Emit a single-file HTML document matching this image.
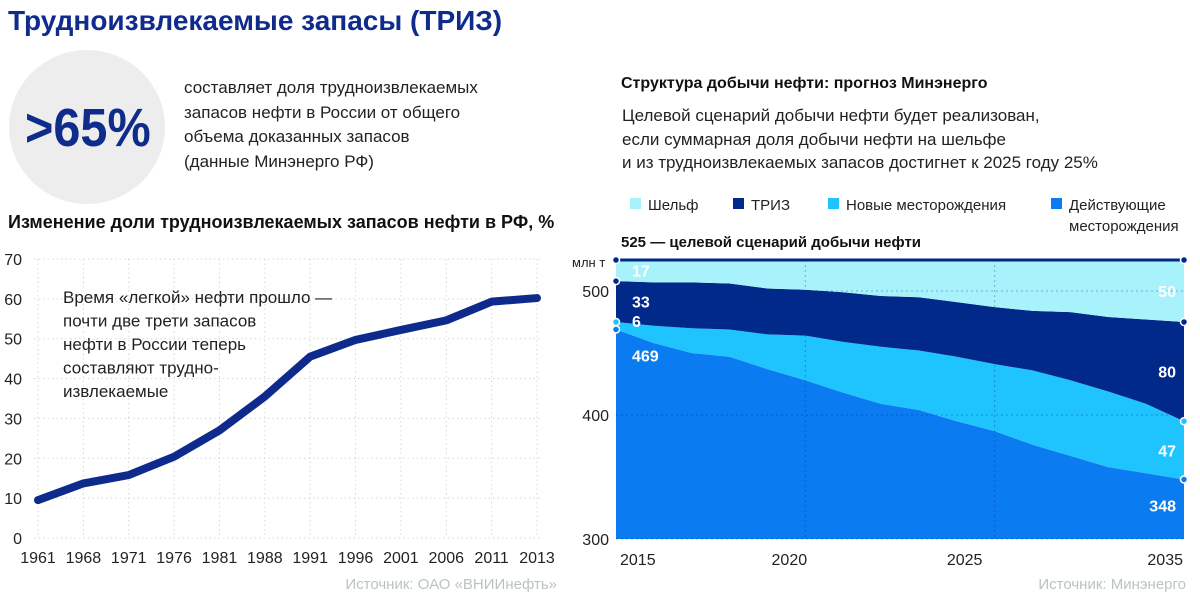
<!DOCTYPE html>
<html><head><meta charset="utf-8"><style>
body{margin:0;width:1200px;height:599px;background:#fff;font-family:"Liberation Sans","Noto Sans CJK SC",sans-serif;overflow:hidden;position:relative}
.t{position:absolute;white-space:nowrap}
</style></head><body>
<div class="t" style="left:8px;top:5px;font-size:28px;font-weight:bold;color:#0f2b8c;">Трудноизвлекаемые запасы (ТРИЗ)</div>
<div style="position:absolute;left:9px;top:50px;width:156px;height:154px;border-radius:50%;background:#ededed"></div>
<div class="t" style="left:25px;top:97px;font-size:54px;font-weight:bold;color:#0f2b8c;transform:scaleX(0.9);transform-origin:left">&gt;65%</div>
<div class="t" style="left:184px;top:76px;font-size:17px;line-height:24.5px;color:#222">составляет доля трудноизвлекаемых<br>запасов нефти в России от общего<br>объема доказанных запасов<br>(данные Минэнерго РФ)</div>
<div class="t" style="left:8px;top:212px;font-size:18px;font-weight:bold;color:#111">Изменение доли трудноизвлекаемых запасов нефти в РФ, %</div>
<div class="t" style="left:621px;top:75px;font-size:16px;font-weight:bold;color:#111">Структура добычи нефти: прогноз Минэнерго</div>
<div class="t" style="left:622px;top:104px;font-size:17px;line-height:23.5px;color:#222">Целевой сценарий добычи нефти будет реализован,<br>если суммарная доля добычи нефти на шельфе<br>и из трудноизвлекаемых запасов достигнет к 2025 году 25%</div>
<svg id="chart" width="1200" height="599" style="position:absolute;left:0;top:0"></svg>
<script>
// Left chart data
const leftYears=["1961","1968","1971","1976","1981","1988","1991","1996","2001","2006","2011","2013"];
const leftValues=[9.5,13.7,15.8,20.4,27,35.5,45.5,49.7,52.2,54.6,59.3,60.2];
const leftTicks=[0,10,20,30,40,50,60,70];
// Right chart data
const rYears=[2015,2016,2017,2018,2019,2020,2021,2022,2023,2024,2025,2026,2027,2028,2029,2030];
const current=[469,458,450,447,437,428,418,409,404,395,387,376,367,358,353,348];
const newFields=[6,14,20,22,28,36,41,46,48,52,54,60,61,61,56,47];
const triz=[33,35,37,37,37,37,40,41,43,44,46,48,55,60,68,80];
const shelf=[17,18,18,19,23,24,26,29,30,34,38,41,42,46,48,50];
const rTickYears=[2015,2020,2025,2030];
const rTickLabels=["2015","2020","2025","2035"];
const rYTicks=[300,400,500];
const target=525;

const svg=document.getElementById('chart');
const NS='http://www.w3.org/2000/svg';
function mk(tag,attrs,parent){const e=document.createElementNS(NS,tag);for(const k in attrs)e.setAttribute(k,attrs[k]);(parent||svg).appendChild(e);return e;}
function txt(x,y,s,attrs){const e=mk('text',Object.assign({x:x,y:y,'font-family':'Liberation Sans, sans-serif'},attrs));e.textContent=s;return e;}

// Left chart axes
const lx=i=>38+i*(537-38)/(leftYears.length-1);
const ly=v=>538-v*(538-259)/70;
const gL=mk('g',{});


leftTicks.forEach(t=>{
  const l=mk('line',{x1:34,x2:540,y1:ly(t),y2:ly(t),stroke:'#d8d8d8','stroke-dasharray':'1.5,3','stroke-width':1},gL);
  
  
  const tx=txt(22,ly(t)+6,String(t),{'font-size':16,fill:'#222','text-anchor':'end'});
  
  
});
leftYears.forEach((y,i)=>{
  const l=mk('line',{x1:lx(i),x2:lx(i),y1:259,y2:538,stroke:'#d8d8d8','stroke-dasharray':'1.5,3','stroke-width':1},gL);
  
  
  const tx=txt(lx(i),563,y,{'font-size':16,fill:'#222','text-anchor':'middle'});
  
  
});
const lp=mk('polyline',{points:leftValues.map((v,i)=>lx(i)+','+ly(v)).join(' '),fill:'none',stroke:'#0d2a8c','stroke-width':8,'stroke-linejoin':'round','stroke-linecap':'round'},gL);


const ann=txt(63,303,'',{'font-size':17,fill:'#222'});


["Время «легкой» нефти прошло —","почти две трети запасов","нефти в России теперь","составляют трудно-","извлекаемые"].forEach((s,i)=>{const t=mk('tspan',{x:63,dy:i?23.5:0},ann);t.textContent=s;});
const src1=txt(557,589,'Источник: ОАО «ВНИИнефть»',{'font-size':15,fill:'#b8c4c4','text-anchor':'end'});



// Right chart axes
const rx=y=>616+(y-2015)*(1184-616)/15;
const ry=v=>539-(v-300)*(539-260)/(target-300);
const gR=mk('g',{});


const cum=[];const layers=[current,newFields,triz,shelf];
let run=rYears.map(()=>0);
layers.forEach(s=>{const prev=run.slice();run=run.map((v,i)=>v+s[i]);cum.push([prev,run.slice()]);});
const colors=['#0a7bf0','#1fc4ff','#00298a','#a8f3fb'];
const names=['area-current-fields','area-new-fields','area-triz','area-shelf'];
cum.forEach(([lo,hi],k)=>{
  let d='M'+rYears.map((y,i)=>rx(y)+','+(k===0?ry(300):ry(lo[i]))).join(' L');
  d+=' L'+rYears.slice().reverse().map((y,j)=>{const i=rYears.length-1-j;return rx(y)+','+ry(hi[i]);}).join(' L')+' Z';
  const p=mk('path',{d:d,fill:colors[k]},gR);
  
  
});
rYTicks.forEach(t=>{
  const l=mk('line',{x1:616,x2:1184,y1:ry(t),y2:ry(t),stroke:'rgba(0,40,140,0.35)','stroke-dasharray':'2,3'},gR);
  
  
  const tx=txt(609,ry(t)+6,String(t),{'font-size':16,fill:'#222','text-anchor':'end'});
  
  
});
rTickYears.forEach((y,i)=>{
  if(i>0&&i<3){const l=mk('line',{x1:rx(y),x2:rx(y),y1:260,y2:539,stroke:'rgba(0,40,140,0.35)','stroke-dasharray':'2,3'},gR);
  
  }
  const anc=i===0?'start':(i===3?'end':'middle');
  const tx=txt(i===0?620:(i===3?1183:rx(y)-16-(i-1)*14),565,rTickLabels[i],{'font-size':16,fill:'#222','text-anchor':anc});
  
  
});
const tl=mk('line',{x1:rx(2015),x2:rx(2030),y1:ry(target),y2:ry(target),stroke:'#00298a','stroke-width':3},gR);


const unit=txt(572,267,'млн т',{'font-size':13,fill:'#222'});


const tlab=txt(621,247,target+' — целевой сценарий добычи нефти',{'font-size':15,'font-weight':'bold',fill:'#111'});


const n=rYears.length-1;
const dotVals=[[cum[3][1][0],cum[2][1][0],cum[1][1][0],cum[0][1][0]],[cum[3][1][n],cum[2][1][n],cum[1][1][n],cum[0][1][n]]];
const dotCols=['#00298a','#00298a','#1fc4ff','#0a7bf0'];
[0,n].forEach((idx,side)=>{
  dotVals[side].forEach((v,k)=>{
    const c=mk('circle',{cx:rx(rYears[idx]),cy:ry(v),r:3.5,fill:dotCols[k],stroke:'#fff','stroke-width':1.5},gR);
    
    
  });
  const vals=[shelf[idx],triz[idx],newFields[idx],current[idx]];
  vals.forEach((v,k)=>{
    const lo=cum[3-k][0][idx],hi=cum[3-k][1][idx];
    let y=k===3?ry(hi)+32:(ry((lo+hi)/2)+6);
    if(k===2&&side===0)y=ry(hi)+5;
    const tx=txt(side?1176:632,y,String(v),{'font-size':16,'font-weight':'bold',fill:'#fff','text-anchor':side?'end':'start'});
    
    
  });
});
const leg=[['Шельф','#a8f3fb',630],['ТРИЗ','#00298a',733],['Новые месторождения','#1fc4ff',828],['Действующие','#0a7bf0',1051]];
leg.forEach(([s,c,x])=>{
  const r=mk('rect',{x:x,y:198,width:11,height:11,fill:c});
  
  
  const tx=txt(x+18,210,s,{'font-size':15,fill:'#222'});
  
  
});
const lg2=txt(1069,231,'месторождения',{'font-size':15,fill:'#222'});


const src2=txt(1186,589,'Источник: Минэнерго',{'font-size':15,fill:'#b8c4c4','text-anchor':'end'});


</script>
</body></html>
